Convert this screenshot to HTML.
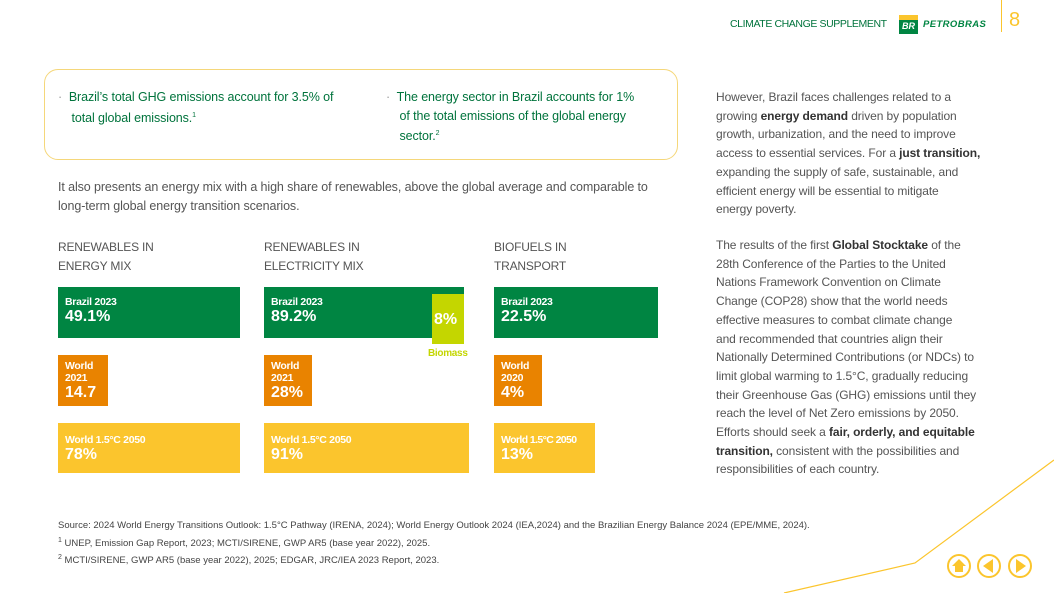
<!DOCTYPE html>
<html><head><meta charset="utf-8"><style>
*{margin:0;padding:0;box-sizing:border-box}
body{width:1054px;height:593px;background:#fff;position:relative;overflow:hidden;font-family:"Liberation Sans",sans-serif;color:#555}
.a{position:absolute;white-space:nowrap}
.box{position:absolute;color:#fff;font-weight:bold;padding:9px 0 0 7px;font-size:10.5px;line-height:12px;letter-spacing:-0.3px;white-space:nowrap}
.box b{font-size:16px;display:block;line-height:18px;letter-spacing:0}
.g{background:#008542}.o{background:#e98300}.y{background:#fbc52d}
.hd{font-size:12px;line-height:19px;color:#555;letter-spacing:-0.2px}
.rt{position:absolute;left:716px;font-size:12px;line-height:18.7px;color:#555;white-space:nowrap;letter-spacing:-0.1px}
.rt b{color:#333}
sup{font-size:7px}
</style></head><body>
<div class="a" style="left:730px;top:18px;font-size:10.5px;color:#00733c;letter-spacing:-0.4px">CLIMATE CHANGE SUPPLEMENT</div>
<div class="a" style="left:899px;top:15px;width:19px;height:19px;background:#008542"><div style="height:5px;background:#fbc52d"></div><div style="color:#fff;font-size:9px;font-weight:bold;font-style:italic;text-align:center;line-height:13px">BR</div></div>
<div class="a" style="left:923px;top:19px;font-size:9.5px;font-weight:bold;font-style:italic;color:#008542;letter-spacing:0.4px">PETROBRAS</div>
<div class="a" style="left:1001px;top:0;width:1px;height:32px;background:#fbc52d"></div>
<div class="a" style="left:1009px;top:9px;font-size:20px;color:#fbc52d">8</div>

<div class="a" style="left:44px;top:69px;width:634px;height:91px;border:1px solid #f5d77a;border-radius:14px"></div>
<div class="a" style="left:58px;top:88px;font-size:12.5px;line-height:18.5px;color:#00733c;letter-spacing:-0.1px"><span style="color:#999">·</span>&nbsp; Brazil’s total GHG emissions account for 3.5% of<br>&nbsp;&nbsp;&nbsp; total global emissions.<sup>1</sup></div>
<div class="a" style="left:386px;top:88px;font-size:12.5px;line-height:18.5px;color:#00733c;letter-spacing:-0.1px"><span style="color:#999">·</span>&nbsp; The energy sector in Brazil accounts for 1%<br>&nbsp;&nbsp;&nbsp; of the total emissions of the global energy<br>&nbsp;&nbsp;&nbsp; sector.<sup>2</sup></div>
<div class="a" style="left:58px;top:178px;font-size:12.5px;line-height:19px;letter-spacing:-0.1px">It also presents an energy mix with a high share of renewables, above the global average and comparable to<br>long-term global energy transition scenarios.</div>

<div class="a hd" style="left:58px;top:238px">RENEWABLES IN<br>ENERGY MIX</div>
<div class="a hd" style="left:264px;top:238px">RENEWABLES IN<br>ELECTRICITY MIX</div>
<div class="a hd" style="left:494px;top:238px">BIOFUELS IN<br>TRANSPORT</div>

<div class="box g" style="left:58px;top:287px;width:182px;height:51px">Brazil 2023<b>49.1%</b></div>
<div class="box o" style="left:58px;top:355px;width:50px;height:51px;padding-top:5px">World<br>2021<b>14.7</b></div>
<div class="box y" style="left:58px;top:423px;width:182px;height:50px;padding-top:11px">World 1.5°C 2050<b>78%</b></div>

<div class="box g" style="left:264px;top:287px;width:200px;height:51px">Brazil 2023<b>89.2%</b></div>
<div class="box" style="left:432px;top:294px;width:32px;height:50px;background:#c4d600;padding:17px 0 0 2px"><b>8%</b></div>
<div class="a" style="left:428px;top:348px;font-size:10px;font-weight:bold;color:#c4d600;letter-spacing:-0.3px">Biomass</div>
<div class="box o" style="left:264px;top:355px;width:48px;height:51px;padding-top:5px">World<br>2021<b>28%</b></div>
<div class="box y" style="left:264px;top:423px;width:205px;height:50px;padding-top:11px">World 1.5°C 2050<b>91%</b></div>

<div class="box g" style="left:494px;top:287px;width:164px;height:51px">Brazil 2023<b>22.5%</b></div>
<div class="box o" style="left:494px;top:355px;width:48px;height:51px;padding-top:5px">World<br>2020<b>4%</b></div>
<div class="box y" style="left:494px;top:423px;width:101px;height:50px;padding-top:11px;letter-spacing:-0.6px">World 1.5°C 2050<b>13%</b></div>

<div class="rt" style="top:88px">However, Brazil faces challenges related to a<br>growing <b>energy demand</b> driven by population<br>growth, urbanization, and the need to improve<br>access to essential services. For a <b>just transition,</b><br>expanding the supply of safe, sustainable, and<br>efficient energy will be essential to mitigate<br>energy poverty.</div>
<div class="rt" style="top:236px">The results of the first <b>Global Stocktake</b> of the<br>28th Conference of the Parties to the United<br>Nations Framework Convention on Climate<br>Change (COP28) show that the world needs<br>effective measures to combat climate change<br>and recommended that countries align their<br>Nationally Determined Contributions (or NDCs) to<br>limit global warming to 1.5°C, gradually reducing<br>their Greenhouse Gas (GHG) emissions until they<br>reach the level of Net Zero emissions by 2050.<br>Efforts should seek a <b>fair, orderly, and equitable<br>transition,</b> consistent with the possibilities and<br>responsibilities of each country.</div>

<div class="a" style="left:58px;top:519px;font-size:9.5px;line-height:14.5px;color:#444;letter-spacing:0px">Source: 2024 World Energy Transitions Outlook: 1.5°C Pathway (IRENA, 2024); World Energy Outlook 2024 (IEA,2024) and the Brazilian Energy Balance 2024 (EPE/MME, 2024).<br><sup>1</sup> UNEP, Emission Gap Report, 2023; MCTI/SIRENE, GWP AR5 (base year 2022), 2025.<br><sup>2</sup> MCTI/SIRENE, GWP AR5 (base year 2022), 2025; EDGAR, JRC/IEA 2023 Report, 2023.</div>

<svg class="a" style="left:0;top:0" width="1054" height="593">
<polyline points="784,593 915,563 1054,460" fill="none" stroke="#fbc52d" stroke-width="1.2"/>
<g><circle cx="959" cy="566" r="11" fill="#fff" stroke="#fbc52d" stroke-width="2"/><path d="M952,566 L959,559 L966,566 L963,566 L963,572 L955,572 L955,566Z" fill="#fbc52d"/></g>
<g><circle cx="989" cy="566" r="11" fill="#fff" stroke="#fbc52d" stroke-width="2"/><path d="M983,566 L993,559 L993,573Z" fill="#fbc52d"/></g>
<g><circle cx="1020" cy="566" r="11" fill="#fff" stroke="#fbc52d" stroke-width="2"/><path d="M1026,566 L1016,559 L1016,573Z" fill="#fbc52d"/></g>
</svg>
</body></html>
